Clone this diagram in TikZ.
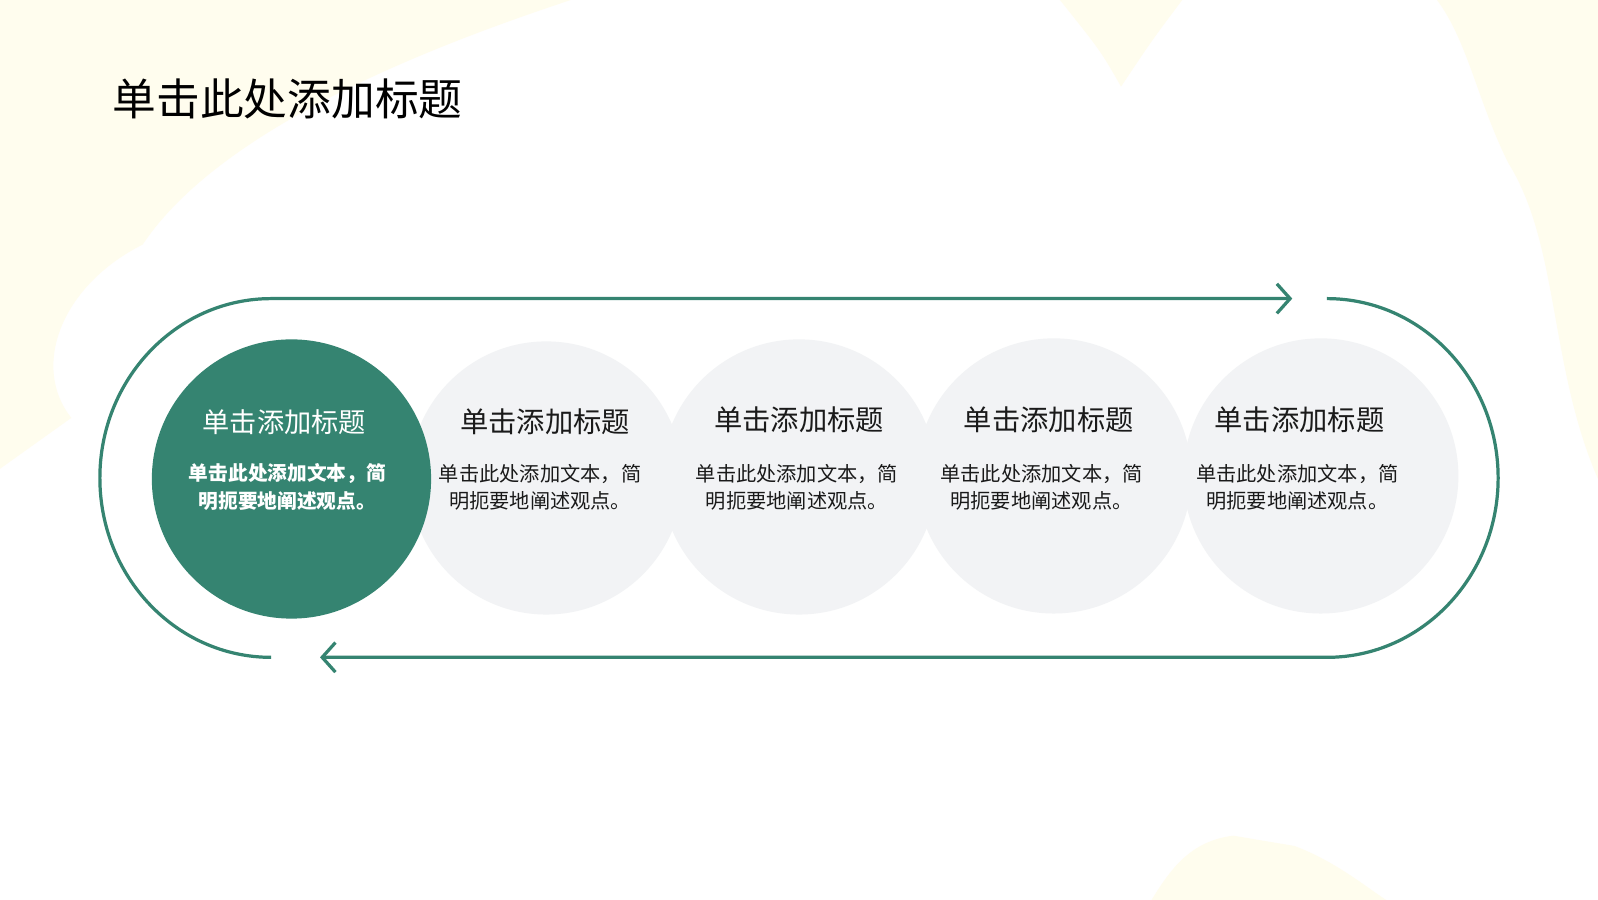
\documentclass[tikz,border=0pt]{standalone}
\usepackage{fontspec}
\newfontfamily\cjk{Noto Sans CJK SC}
\usetikzlibrary{arrows.meta}

\begin{document}
\begin{tikzpicture}

% Define colors
\definecolor{mygreen}{RGB}{53, 132, 113}
\definecolor{mygray}{RGB}{242, 243, 245}
\definecolor{myyellow}{RGB}{255, 253, 238}
\definecolor{mytext}{RGB}{26, 26, 26}

\tikzset{
  greenball/.style={circle, fill=mygreen, minimum size=2.74cm, inner sep=0pt},
  grayball/.style={circle, fill=mygray, minimum size=2.70cm, inner sep=0pt},
  headtext/.style={font=\cjk\fontsize{7.9}{9}\selectfont, text=mytext},
  bodytext/.style={font=\cjk\fontsize{5.65}{7.7}\selectfont, text=mytext, align=center},
  flowline/.style={draw=mygreen, line width=0.9pt},
  barb/.style={-{Straight Barb[length=1.3mm, width=2.9mm, line width=0.9pt]}}
}

% Page and background blotches
\useasboundingbox (0, 0.17) rectangle (15.68, 9);
\fill[white] (0, 0.17) rectangle (15.68, 9);
\fill[myyellow] (0, 9) -- (5.6, 9) .. controls (4.4, 8.6) and (2.2, 7.8) .. (1.4, 6.6)
  .. controls (0.6, 6.2) and (0.3, 5.4) .. (0.7, 4.9) -- (0, 4.4) -- cycle;
\fill[myyellow] (10.4, 9) -- (11.6, 9) .. controls (11.3, 8.6) .. (11.0, 8.15)
  .. controls (10.8, 8.5) .. cycle;
\fill[myyellow] (14.1, 9) -- (15.68, 9) -- (15.68, 4.3) .. controls (15.2, 5.4) and (15.3, 6.6) .. (14.8, 7.4)
  .. controls (14.5, 8.0) and (14.4, 8.6) .. cycle;
\fill[myyellow] (11.3, 0.17) .. controls (11.5, 0.5) and (11.7, 0.75) .. (12.1, 0.8)
  -- (12.7, 0.7) .. controls (13.1, 0.55) and (13.4, 0.3) .. (13.6, 0.17) -- cycle;

% Title
\node[anchor=west, inner sep=0pt, font=\cjk\fontsize{12.2}{14}\selectfont, text=black] (title) at (1.10, 8.03) {单击此处添加标题};

% Gray circles
\node[grayball] (c5) at (12.96, 4.33) {};
\node[grayball] (c4) at (10.34, 4.33) {};
\node[grayball] (c3) at (7.84, 4.32) {};
\node[grayball, minimum size=2.68cm] (c2) at (5.36, 4.31) {};
% Green circle on top
\node[greenball] (c1) at (2.86, 4.30) {};

% Texts of the circles
\node[headtext, text=white, font=\cjk\fontsize{7.6}{9}\selectfont] (h1) at (2.79, 4.86) {单击添加标题};
\node[bodytext, text=white, font=\cjk\bfseries\fontsize{5.5}{7.7}\selectfont] (b1) at (2.82, 4.22) {单击此处添加文本，简\\明扼要地阐述观点。};

\node[headtext] (h2) at (5.35, 4.86) {单击添加标题};
\node[bodytext] (b2) at (5.30, 4.22) {单击此处添加文本，简\\明扼要地阐述观点。};

\node[headtext] (h3) at (7.84, 4.88) {单击添加标题};
\node[bodytext] (b3) at (7.82, 4.22) {单击此处添加文本，简\\明扼要地阐述观点。};

\node[headtext] (h4) at (10.29, 4.88) {单击添加标题};
\node[bodytext] (b4) at (10.22, 4.22) {单击此处添加文本，简\\明扼要地阐述观点。};

\node[headtext] (h5) at (12.75, 4.88) {单击添加标题};
\node[bodytext] (b5) at (12.73, 4.22) {单击此处添加文本，简\\明扼要地阐述观点。};

% Ends of the loop
\coordinate (lowL) at (2.66, 2.55);
\coordinate (topL) at (2.70, 6.07);
\coordinate (topR) at (12.68, 6.07);
\coordinate (arcR) at (13.02, 6.07);
\coordinate (lowR) at (13.02, 2.55);
\coordinate (lowA) at (3.14, 2.55);

% Left turn and top arrow
\draw[flowline, barb] (lowL) arc[start angle=270, end angle=90, x radius=1.68, y radius=1.76] -- (topR);
% Right turn and bottom arrow
\draw[flowline, barb] (arcR) arc[start angle=90, end angle=-90, x radius=1.68, y radius=1.76] -- (lowA);

\end{tikzpicture}
\end{document}
